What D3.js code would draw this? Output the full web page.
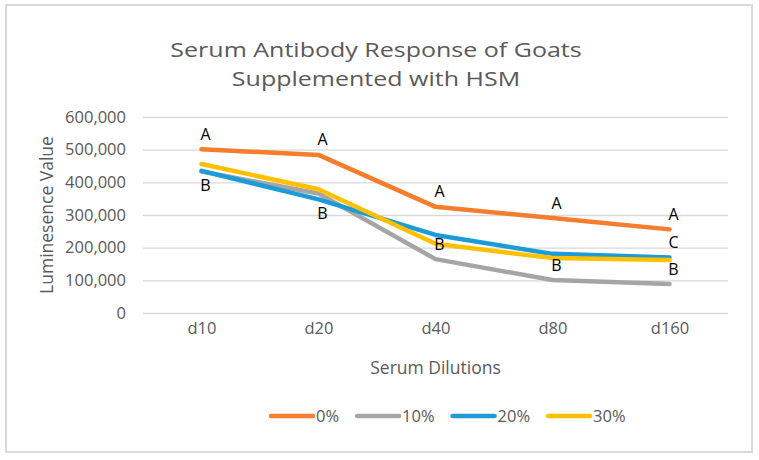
<!DOCTYPE html>
<html>
<head>
<meta charset="utf-8">
<script src="https://cdn.jsdelivr.net/npm/d3@7"></script>
<style>
  body { margin: 0; background: #fff; }
  text { font-family: "Open Sans", sans-serif; fill: #595959; }
</style>
</head>
<body>
<div class="chart"></div>
<script>
// data
var dilutions = ["d10", "d20", "d40", "d80", "d160"];
var seriesNames = ["0%", "10%", "20%", "30%"];
var seriesColors = ["#F57D2C", "#A5A5A5", "#1B9BD7", "#FFC000"];
var values0 = [501000, 484000, 325000, 291000, 256000];
var values10 = [433000, 366000, 165000, 101000, 89000];
var values20 = [435000, 348000, 239000, 181000, 170000];
var values30 = [456000, 379000, 212000, 168000, 162000];
var yTicks = [0, 100000, 200000, 300000, 400000, 500000, 600000];
var titleLines = ["Serum Antibody Response of Goats", "Supplemented with HSM"];

// significance letters: text, series it sits on, above or below the line
var letterText = ["A", "B", "A", "B", "A", "B", "A", "B", "A", "C", "B"];
var letterCat = ["d10", "d10", "d20", "d20", "d40", "d40", "d80", "d80", "d160", "d160", "d160"];
var letterSeries = [0, 2, 0, 2, 0, 1, 0, 1, 0, 2, 1];
var letterSide = ["above", "below", "above", "below", "above", "above", "above", "above", "above", "above", "above"];

var allValues = [values0, values10, values20, values30];
var FONT = "'Open Sans', sans-serif";

var svgWidth = 759;
var svgHeight = 460;

var chartMargin = { top: 117, right: 31, bottom: 147, left: 143 };
var chartWidth = svgWidth - chartMargin.left - chartMargin.right;
var chartHeight = svgHeight - chartMargin.top - chartMargin.bottom;

var svg = d3.select(".chart")
  .append("svg")
  .attr("width", svgWidth)
  .attr("height", svgHeight);

// outer frame
svg.append("rect")
  .attr("x", 6).attr("y", 5)
  .attr("width", 746).attr("height", 447)
  .attr("fill", "#fff")
  .attr("stroke", "#d9d9d9")
  .attr("stroke-width", 2);

// title (stretched a bit sideways, like the original)
titleLines.forEach(function(txt, i) {
  svg.append("text")
    .attr("transform", `translate(376, ${57 + i * 28.5}) scale(1.22, 1)`)
    .attr("text-anchor", "middle")
    .style("font-size", "20.5px")
    .text(txt);
});

var chartGroup = svg.append("g")
  .attr("transform", `translate(${chartMargin.left}, ${chartMargin.top})`);

var xScale = d3.scalePoint()
  .domain(dilutions)
  .range([0, chartWidth])
  .padding(0.5);

var yScale = d3.scaleLinear()
  .domain([0, 600000])
  .range([chartHeight, 0]);

// gridlines + y labels
var leftAxis = d3.axisLeft(yScale)
  .tickValues(yTicks)
  .tickFormat(d3.format(","))
  .tickSize(-chartWidth)
  .tickPadding(17);

var yAxisG = chartGroup.append("g").call(leftAxis);
yAxisG.select(".domain").remove();
yAxisG.selectAll("line").attr("stroke", "#d9d9d9").attr("stroke-width", 1.3);
yAxisG.selectAll("text")
  .style("font-size", "16.5px")
  .style("fill", "#595959")
  .style("font-family", FONT);

// category labels
var bottomAxis = d3.axisBottom(xScale).tickSize(0).tickPadding(9);
var xAxisG = chartGroup.append("g")
  .attr("transform", `translate(0, ${chartHeight})`)
  .call(bottomAxis);
xAxisG.select(".domain").remove();
xAxisG.selectAll("text")
  .style("font-size", "16.5px")
  .style("fill", "#595959")
  .style("font-family", FONT);

// axis titles
chartGroup.append("text")
  .attr("x", chartWidth / 2)
  .attr("y", chartHeight + 61)
  .attr("text-anchor", "middle")
  .style("font-size", "17.5px")
  .text("Serum Dilutions");

chartGroup.append("text")
  .attr("transform", `translate(-96, ${chartHeight / 2}) rotate(-90)`)
  .attr("text-anchor", "middle")
  .attr("dy", "0.35em")
  .style("font-size", "17.5px")
  .text("Luminesence Value");

// lines
var line = d3.line()
  .x(function(d, i) { return xScale(dilutions[i]); })
  .y(function(d) { return yScale(d); });

allValues.forEach(function(vals, s) {
  chartGroup.append("path")
    .datum(vals)
    .attr("fill", "none")
    .attr("stroke", seriesColors[s])
    .attr("stroke-width", 4.5)
    .attr("stroke-linejoin", "round")
    .attr("stroke-linecap", "round")
    .attr("d", line);
});

// letters
letterText.forEach(function(t, k) {
  var ci = dilutions.indexOf(letterCat[k]);
  var v = allValues[letterSeries[k]][ci];
  var off = letterSide[k] === "above" ? -15 : 14;
  chartGroup.append("text")
    .attr("x", xScale(letterCat[k]) + 4)
    .attr("y", yScale(v) + off)
    .attr("dy", "0.35em")
    .attr("text-anchor", "middle")
    .style("font-size", "16px")
    .style("fill", "#000")
    .text(t);
});

// legend
var legend = svg.append("g").attr("transform", "translate(271, 416)");
var lx = 0;
seriesNames.forEach(function(name, s) {
  legend.append("line")
    .attr("x1", lx).attr("x2", lx + 42)
    .attr("y1", 0).attr("y2", 0)
    .attr("stroke", seriesColors[s])
    .attr("stroke-width", 4.5)
    .attr("stroke-linecap", "round");
  var t = legend.append("text")
    .attr("x", lx + 45)
    .attr("y", 0)
    .attr("dy", "0.35em")
    .style("font-size", "16.5px")
    .text(name);
  lx += 45 + t.node().getComputedTextLength() + 18;
});
</script>
</body>
</html>
